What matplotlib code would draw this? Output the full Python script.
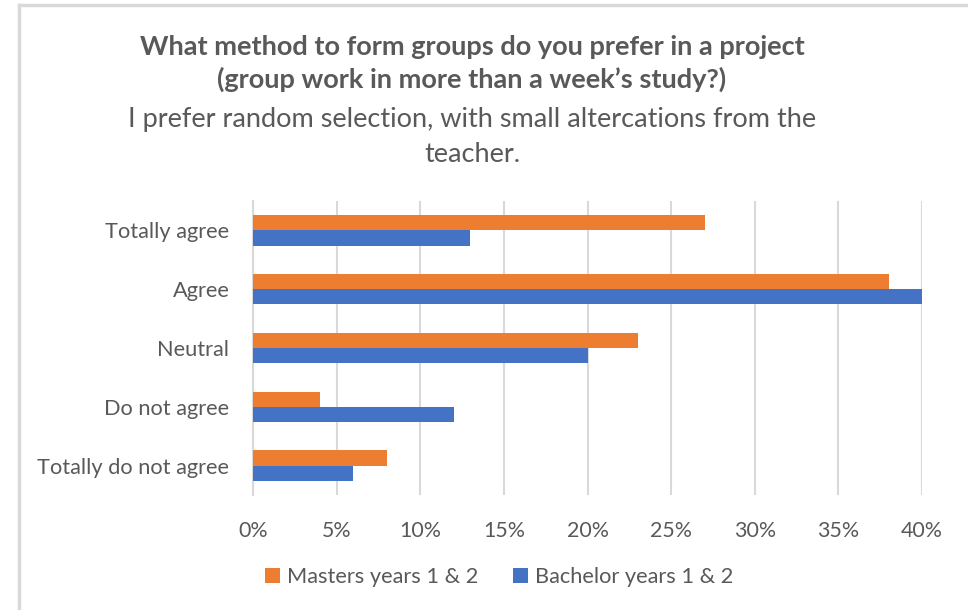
import matplotlib
matplotlib.use("Agg")
import matplotlib.pyplot as plt
from matplotlib.lines import Line2D
from matplotlib.patches import Patch
import numpy as np

categories = ["Totally agree", "Agree", "Neutral", "Do not agree", "Totally do not agree"]
masters = [0.27, 0.38, 0.23, 0.04, 0.08]
bachelor = [0.13, 0.40, 0.20, 0.12, 0.06]
xticks = [0.0, 0.05, 0.10, 0.15, 0.20, 0.25, 0.30, 0.35, 0.40]
xtick_labels = ["0%", "5%", "10%", "15%", "20%", "25%", "30%", "35%", "40%"]

ORANGE = "#ED7D31"
BLUE = "#4472C4"
TEXT = "#595959"
GRID = "#D9D9D9"
FONT = ["Lato", "DejaVu Sans"]

plt.rcParams['font.family'] = FONT

W, H = 968, 610
fig = plt.figure(figsize=(W / 100, H / 100), dpi=100)
fig.patch.set_facecolor("white")

ax = fig.add_axes([253 / W, 1 - 495 / H, (922 - 253) / W, (495 - 201) / H])
y = np.arange(len(categories))
h = 0.26
ax.barh(y - h / 2, masters, height=h, color=ORANGE, label="Masters years 1 & 2", zorder=3)
ax.barh(y + h / 2, bachelor, height=h, color=BLUE, label="Bachelor years 1 & 2", zorder=3)
ax.set_ylim(len(categories) - 0.5, -0.5)
ax.set_xlim(0, 0.40)
ax.set_xticks(xticks)
ax.set_xticklabels(xtick_labels)
ax.set_yticks(y)
ax.set_yticklabels(categories)
ax.tick_params(axis="x", length=0, colors=TEXT, labelsize=15.4, pad=19)
ax.tick_params(axis="y", length=0, colors=TEXT, labelsize=15.7, pad=17)
ax.grid(axis="x", color=GRID, linewidth=1.5, zorder=0)
for s in ["top", "right", "bottom"]:
    ax.spines[s].set_visible(False)
ax.spines["left"].set_color(GRID)
ax.spines["left"].set_linewidth(1.5)
ax.set_facecolor("white")

# titles
fig.text(472 / W, 1 - 47 / H, "What method to form groups do you prefer in a project",
         ha="center", va="center", fontsize=19.5, fontweight="bold", color=TEXT)
fig.text(472 / W, 1 - 79 / H, "(group work in more than a week\u2019s study?)",
         ha="center", va="center", fontsize=19.5, fontweight="bold", color=TEXT)
fig.text(472 / W, 1 - 119 / H, "I prefer random selection, with small altercations from the",
         ha="center", va="center", fontsize=19.5, color=TEXT)
fig.text(472 / W, 1 - 155 / H, "teacher.",
         ha="center", va="center", fontsize=19.5, color=TEXT)

handles = [Patch(facecolor=ORANGE, label="Masters years 1 & 2"),
           Patch(facecolor=BLUE, label="Bachelor years 1 & 2")]
leg = fig.legend(handles=handles, loc="center", bbox_to_anchor=(499 / W, 1 - 577 / H),
                 ncol=2, frameon=False, fontsize=15.7, handlelength=0.7, handleheight=0.7,
                 handletextpad=0.3, columnspacing=1.6)
for t in leg.get_texts():
    t.set_color(TEXT)

# outer border (partial, as in reference)
fig.add_artist(Line2D([19 / W, 19 / W], [0, 1 - 5 / H], color=GRID, linewidth=2.5,
                      transform=fig.transFigure))
fig.add_artist(Line2D([19 / W, 1], [1 - 5 / H, 1 - 5 / H], color=GRID, linewidth=2.5,
                      transform=fig.transFigure))

fig.savefig("out.png", dpi=100, facecolor="white")
